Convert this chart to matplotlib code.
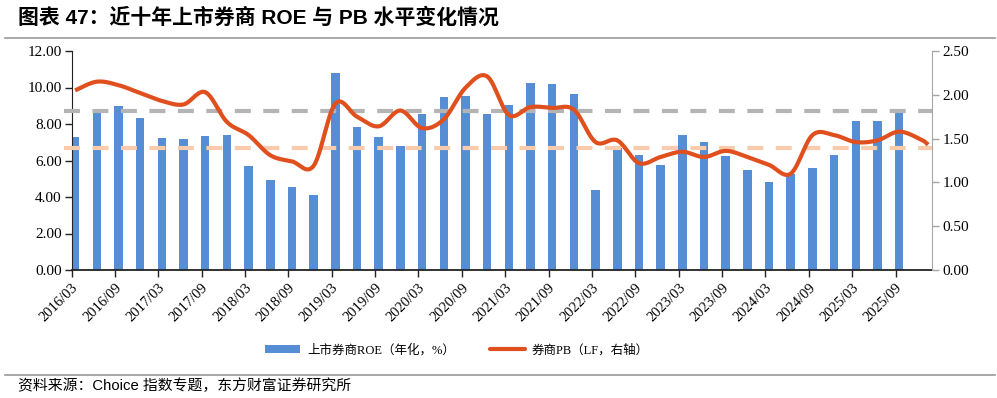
import numpy as np
import matplotlib
matplotlib.use("Agg")
import matplotlib.pyplot as plt
from matplotlib.patches import Patch
from matplotlib.lines import Line2D

plt.rcParams['lines.scale_dashes'] = False

# ---------------- data ----------------
roe_quarters = ["2016/03", "2016/06", "2016/09", "2016/12", "2017/03", "2017/06", "2017/09", "2017/12",
                "2018/03", "2018/06", "2018/09", "2018/12", "2019/03", "2019/06", "2019/09", "2019/12",
                "2020/03", "2020/06", "2020/09", "2020/12", "2021/03", "2021/06", "2021/09", "2021/12",
                "2022/03", "2022/06", "2022/09", "2022/12", "2023/03", "2023/06", "2023/09", "2023/12",
                "2024/03", "2024/06", "2024/09", "2024/12", "2025/03", "2025/06", "2025/09"]
roe_values = [7.30, 8.67, 8.97, 8.35, 7.23, 7.18, 7.34, 7.42,
              5.70, 4.93, 4.53, 4.11, 10.78, 7.82, 7.30, 6.79,
              8.53, 9.46, 9.53, 8.55, 9.02, 10.26, 10.19, 9.64,
              4.38, 6.70, 6.30, 5.75, 7.40, 7.01, 6.27, 5.48,
              4.84, 5.24, 5.61, 6.30, 8.16, 8.15, 8.71]

pb_dates = roe_quarters + ["2025/12", "2026/01"]
pb_values = [2.05, 2.15, 2.11, 2.02, 1.93, 1.89, 2.03, 1.69,
             1.54, 1.31, 1.24, 1.19, 1.90, 1.75, 1.64, 1.82,
             1.62, 1.72, 2.08, 2.21, 1.77, 1.86, 1.85, 1.83,
             1.46, 1.48, 1.22, 1.29, 1.35, 1.29, 1.36, 1.29,
             1.20, 1.10, 1.54, 1.54, 1.46, 1.48, 1.58, 1.49, 1.43]

ref_high = 1.82   # grey dashed reference (right axis)
ref_low = 1.39    # peach dashed reference (right axis)

tick_labels = ["2016/03", "2016/09", "2017/03", "2017/09", "2018/03", "2018/09", "2019/03", "2019/09",
               "2020/03", "2020/09", "2021/03", "2021/09", "2022/03", "2022/09", "2023/03", "2023/09",
               "2024/03", "2024/09", "2025/03", "2025/09"]

start_label = "2016/03"
end_label = "2026/01"

# ---------------- helpers ----------------
def month_index(s):
    y, m = s.split("/")
    y0, m0 = start_label.split("/")
    return (int(y) - int(y0)) * 12 + (int(m) - int(m0))

def smooth(xs, ys, n=24):
    xs = np.asarray(xs, float); ys = np.asarray(ys, float)
    P = np.column_stack([xs, ys])
    out = []
    for i in range(len(P) - 1):
        p0 = P[i - 1] if i > 0 else P[i]
        p1 = P[i]; p2 = P[i + 1]
        p3 = P[i + 2] if i + 2 < len(P) else P[i + 1]
        c1 = p1 + (p2 - p0) / 6.0
        c2 = p2 - (p3 - p1) / 6.0
        t = np.linspace(0, 1, n, endpoint=(i == len(P) - 2))[:, None]
        seg = (1 - t) ** 3 * p1 + 3 * (1 - t) ** 2 * t * c1 + 3 * (1 - t) * t ** 2 * c2 + t ** 3 * p2
        out.append(seg)
    out = np.vstack(out)
    return out[:, 0], out[:, 1]

serif_cjk = ['Liberation Serif', 'Noto Sans CJK SC']
sans_cjk = ['Liberation Sans', 'Noto Sans CJK SC']

# ---------------- figure ----------------
W, H = 997, 398
fig = plt.figure(figsize=(W / 100, H / 100), dpi=100)
L, R, B, T = 71.5, 931.7, 270, 51
ax = fig.add_axes([L / W, 1 - B / H, (R - L) / W, (B - T) / H])
ax2 = ax.twinx()

bar_x = np.array([month_index(q) for q in roe_quarters]) + 0.5
line_x = np.array([month_index(q) for q in pb_dates]) + 0.5

blue = '#558ED5'
red = '#E0501E'
ax.bar(bar_x, roe_values, width=1.18, color=blue, zorder=2)

ax.set_xlim(0, month_index(end_label) + 1)
ax.set_ylim(0, 12)
ax.set_yticks(np.arange(0, 12.01, 2))
ax.set_yticklabels([f"{v:.2f}" for v in np.arange(0, 12.01, 2)], family='Liberation Serif', fontsize=11)
ax.set_xticks([month_index(t) for t in tick_labels])
ax.set_xticklabels(tick_labels, rotation=45, ha='right', va='top', rotation_mode='anchor',
                   family='Liberation Serif', fontsize=10.5)
ax.tick_params(axis='x', length=5, width=1, color='#222222', pad=3)
ax.tick_params(axis='y', length=5, width=1, color='#222222', pad=2)

ax2.set_ylim(0, 2.5)
ax2.set_yticks(np.arange(0, 2.51, 0.5))
ax2.set_yticklabels([f"{v:.2f}" for v in np.arange(0, 2.51, 0.5)], family='Liberation Serif', fontsize=11)
ax2.tick_params(axis='y', length=5, width=1, color='#A6A6A6', pad=3)

for a in (ax, ax2):
    a.spines['top'].set_visible(False)
ax.spines['right'].set_visible(False)
ax2.spines['left'].set_visible(False)
ax2.spines['bottom'].set_visible(False)
ax2.spines['right'].set_color('#A6A6A6')
ax.spines['left'].set_color('#222222')
ax.spines['bottom'].set_color('#222222')
ax.spines['bottom'].set_linewidth(1.3)
ax.spines['bottom'].set_zorder(5)

# reference dashed lines
ax2.plot([-0.009, 1.0], [ref_high, ref_high], transform=ax2.get_yaxis_transform(), color='#B4B4B4',
         lw=3.0, dashes=(11.5, 9.0), clip_on=False, zorder=3, dash_capstyle='butt')
ax2.plot([-0.009, 1.0], [ref_low, ref_low], transform=ax2.get_yaxis_transform(), color='#F8CBAD',
         lw=3.0, dashes=(11.5, 9.0), clip_on=False, zorder=3, dash_capstyle='butt')

sx, sy = smooth(line_x, pb_values)
ax2.plot(sx, sy, color=red, lw=3.0, zorder=4, solid_capstyle='butt')

# legend
handles = [Patch(facecolor=blue, edgecolor='none'),
           Line2D([0], [0], color=red, lw=3.0, solid_capstyle='round')]
labels = ["上市券商ROE（年化，%）", "券商PB（LF，右轴）"]
fig.legend(handles, labels, loc='center', bbox_to_anchor=(457 / W, 1 - 350 / H), ncol=2, frameon=False,
           prop={'family': serif_cjk, 'size': 9}, handlelength=2.8, handleheight=0.6,
           columnspacing=2.8, handletextpad=0.55)

# title and source
fig.text(18 / W, 1 - 17 / H, "图表 47：近十年上市券商 ROE 与 PB 水平变化情况", family=sans_cjk,
         fontsize=15, fontweight='bold', va='center', ha='left')
fig.add_artist(Line2D([5 / W, 995 / W], [1 - 37.5 / H, 1 - 37.5 / H], color='#9A9A9A', lw=1.2))
fig.add_artist(Line2D([5 / W, 995 / W], [1 - 374.5 / H, 1 - 374.5 / H], color='#9A9A9A', lw=1.2))
fig.text(18 / W, 1 - 386 / H, "资料来源：Choice 指数专题，东方财富证券研究所", family=sans_cjk,
         fontsize=10.7, va='center', ha='left')

fig.savefig("out.png", dpi=100)
